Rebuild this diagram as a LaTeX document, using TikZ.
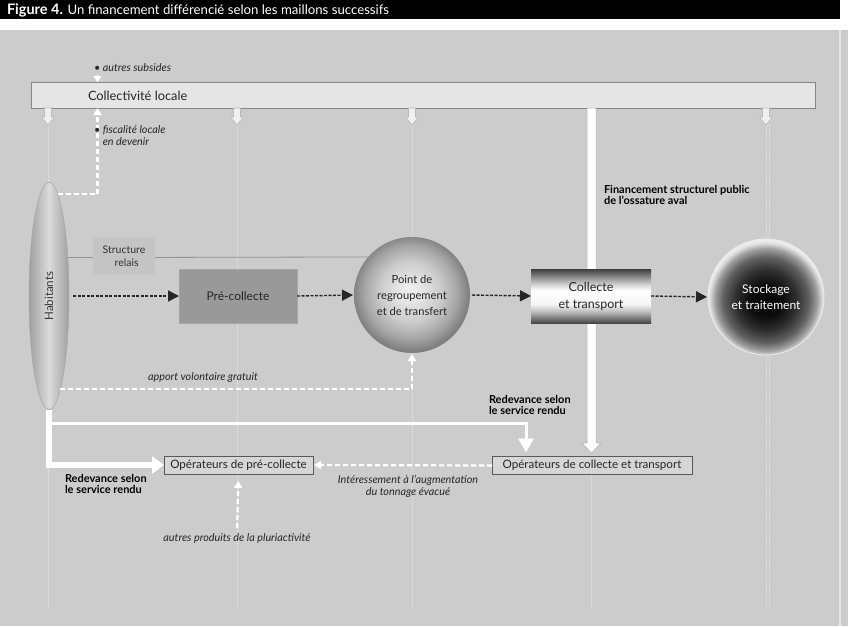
\documentclass[tikz,border=0pt]{standalone}
\usepackage{fontspec}
\setmainfont{Lato}
\usetikzlibrary{shapes.geometric,arrows.meta,calc}
\pgfdeclareradialshading{ptshade}{\pgfpoint{-1bp}{2bp}}{color(0bp)=(white!94!black); color(5bp)=(white!90!black); color(13bp)=(white!80!black); color(20bp)=(white!65!black); color(25bp)=(white!50!black); color(50bp)=(white!50!black)}
\pgfdeclareradialshading{stoshade}{\pgfpoint{0bp}{-2bp}}{color(0bp)=(black!98); color(7bp)=(black!95); color(13bp)=(black!82); color(18.5bp)=(black!62); color(22bp)=(black!38); color(24bp)=(black!16); color(25bp)=(black!8); color(50bp)=(black!8)}
\pgfdeclareverticalshading{colshade}{100bp}{color(0bp)=(black!72); color(25bp)=(black!72); color(29bp)=(black!55); color(35bp)=(black!28); color(42.5bp)=(white!96!black); color(55bp)=(white); color(60bp)=(black!15); color(70bp)=(black!55); color(75bp)=(black!76); color(100bp)=(black!76)}
\begin{document}
\begin{tikzpicture}[x=1pt,y=-1pt,
  every node/.style={inner sep=0pt, outer sep=0pt, align=center},
  lbl/.style={font=\fontsize{10.8}{12}\selectfont\itshape, text=black!85},
  blbl/.style={font=\fontsize{11}{11.5}\selectfont\bfseries, align=left, text=black},
  opbox/.style={draw=black!65, fill=gray!32, minimum height=18pt, font=\fontsize{11.6}{13}\selectfont, line width=0.8pt, text=black!85},
  blkarrow/.style={draw=black!85, line width=1.4pt, dash pattern=on 3pt off 1.5pt, -{Triangle[length=11pt,width=11pt]}},
  whdash/.style={draw=white, line width=2.2pt, dash pattern=on 5pt off 3pt, -{Triangle[length=7pt,width=8pt]}},
  whthick/.style={draw=white, line width=6pt, -{Triangle[length=12pt,width=17pt]}},
  whthin/.style={draw=white, line width=3pt, -{Triangle[length=14pt,width=15pt]}},
  vline/.style={draw=gray!25, line width=1pt, dash pattern=on 1.5pt off 1.5pt},
  hollow/.style={fill=gray!12, draw=gray!55, line width=0.6pt},
  nodetxt/.style={font=\fontsize{11.5}{16}\selectfont, text=black!85}
]
\useasboundingbox (0,0) rectangle (848,626);
% background
\fill[white] (0,0) rectangle (848,626);
\fill[black] (0,0) rectangle (840,19);
\fill[gray!40] (0,30) rectangle (848,626);
\draw[gray!20, line width=1.5pt] (840,30) -- (840,626);
\node[anchor=base west, text=white, font=\fontsize{13.2}{16}\selectfont] (title) at (7,15) {{\fontsize{14.5}{16}\selectfont\bfseries Figure 4.} Un financement différencié selon les maillons successifs};

% collectivite bar
\node[draw=gray!95, fill=gray!20, line width=0.8pt, minimum width=784pt, minimum height=26pt, anchor=west] (coll) at (31,95) {};
\node[anchor=west, font=\fontsize{12.8}{14}\selectfont, text=black!85] (colltxt) at (88,96) {Collectivité locale};

% hollow arrows and dotted verticals
\foreach \xx/\nm in {48/a1,237/a2,412/a3,766/a4}{
  \coordinate (\nm t) at (\xx,108);
  \coordinate (\nm b) at (\xx,125);
  \coordinate (\nm e) at (\xx,608);
  \draw[vline] (\nm b) -- (\nm e);
  \path[hollow] ($(\nm t)+(-3.5,0)$) -- ($(\nm t)+(3.5,0)$) -- ($(\nm t)+(3.5,9)$) -- ($(\nm t)+(6.5,9)$) -- (\nm b) -- ($(\nm t)+(-6.5,9)$) -- ($(\nm t)+(-3.5,9)$) -- cycle;
}
\draw[vline] (769,125) -- (769,608);
\coordinate (v5t) at (591,474);
\coordinate (v5b) at (591,608);
\draw[vline] (v5t) -- (v5b);

% vertical white bar (behind collecte box)
\coordinate (vbt) at (591.5,108);
\coordinate (vbb) at (591.5,453);
\path[fill=white, draw=gray!60, line width=0.5pt] ($(vbt)+(-4.5,0)$) -- ($(vbt)+(4.5,0)$) -- ($(vbb)+(4.5,-10)$) -- ($(vbb)+(9.5,-10)$) -- (vbb) -- ($(vbb)+(-9.5,-10)$) -- ($(vbb)+(-4.5,-10)$) -- cycle;
\node[blbl, anchor=north west] (fin) at (604,185) {Financement structurel public\\de l'ossature aval};

% Habitants
\node[ellipse, minimum width=40pt, minimum height=227pt, draw=gray!70, line width=0.5pt, left color=gray!75, right color=gray!75, middle color=gray!28] (hab) at (49,296) {};
\node[rotate=90, font=\fontsize{11.5}{13}\selectfont, text=black!80] (habtxt) at (hab.center) {Habitants};

% nodes
\node[fill=gray!46, minimum width=62pt, minimum height=38pt, font=\fontsize{10.5}{13}\selectfont, text=black!80] (relais) at (124,256) {Structure\\\ \ relais};
\node[circle, minimum size=116pt, shading=ptshade, nodetxt, font=\fontsize{11.2}{16}\selectfont] (pt) at (412,295) {Point de\\regroupement\\et de transfert};
\draw[gray!85, line width=0.8pt] (hab.64) -- (relais.west |- hab.64);
\draw[gray!85, line width=0.8pt] (relais.east |- hab.64) -- (pt.139);
\node[fill=gray!80, draw=gray!70, minimum width=118pt, minimum height=54pt, nodetxt, font=\fontsize{12}{14}\selectfont] (pre) at (238,296) {Pré-collecte};
\node[minimum width=120pt, minimum height=54pt, shading=colshade, nodetxt, font=\fontsize{12.5}{17}\selectfont] (colt) at (591,296) {Collecte\\et transport};
\node[circle, minimum size=116pt, shading=stoshade, draw=white!85!gray, line width=0.8pt, nodetxt, font=\fontsize{12}{16}\selectfont, text=white] (sto) at (766,297) {Stockage\\et traitement};

% operators
\node[opbox, minimum width=149pt] (opc) at (238.5,465) {Opérateurs de pré-collecte};
\node[opbox, minimum width=200pt] (opcol) at (592,465.5) {Opérateurs de collecte et transport};

% black dashed flow
\draw[blkarrow, shorten <=4pt] (hab.east) -- (pre.west);
\draw[blkarrow, shorten >=1pt] (pre.east) -- (pt.west);
\draw[blkarrow, shorten <=2pt] (pt.east) -- (colt.west);
\draw[blkarrow, shorten >=1pt] (colt.east) -- (sto.west);

% fiscalite & subsides
\coordinate (fisct) at (97.5,108);
\draw[whdash] (hab.85) -| (fisct);
\node[lbl, anchor=base west, align=left] (fisc) at (94,145.5) {\textbullet\ fiscalité locale\\\phantom{\textbullet\ }en devenir};
\node[lbl, anchor=west] (subs) at (94,68) {\textbullet\ autres subsides};
\coordinate (subsa) at (97.5,74);
\draw[draw=white, line width=1pt, -{Triangle[length=6pt,width=8pt]}] (subsa) -- (subsa |- coll.north);

% apport volontaire
\draw[whdash, shorten >=1pt] (hab.-83) -| (pt.south);
\node[lbl] (apport) at (203,378) {apport volontaire gratuit};

% redevance
\coordinate (br) at (hab.south |- 0,423.5);
\draw[whthick] (hab.south) |- (opc.west);
\draw[whthin, shorten >=4pt] (br) -| ($(opcol.north west)+(34,0)$);
\node[blbl, anchor=north west] (red1) at (65,474) {Redevance selon\\le service rendu};
\node[blbl, anchor=north west] (red2) at (489,395) {Redevance selon\\le service rendu};

% interessement
\draw[whdash, shorten >=1pt] (opcol.west) -- (opc.east);
\node[lbl, anchor=north] (inter) at (408,475) {Intéressement à l'augmentation\\du tonnage évacué};

% autres produits
\node[lbl] (prod) at (237,538) {autres produits de la pluriactivité};
\draw[whdash, shorten <=5pt, shorten >=7pt] (prod.north) -- (opc.south);
\end{tikzpicture}
\end{document}
